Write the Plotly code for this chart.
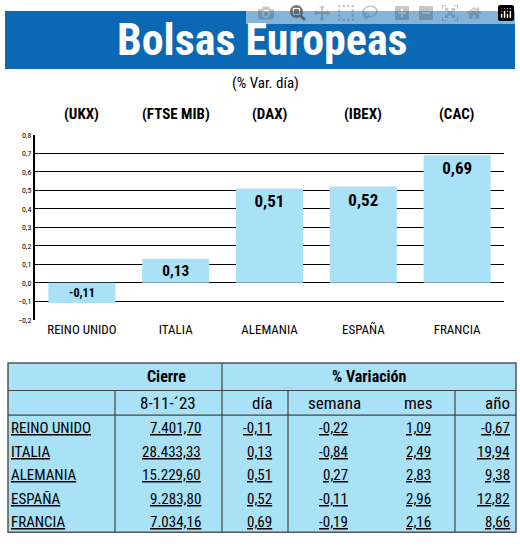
import plotly.graph_objects as go

W, H = 520, 546
paises = ["REINO UNIDO", "ITALIA", "ALEMANIA", "ESPAÑA", "FRANCIA"]
indices = ["(UKX)", "(FTSE MIB)", "(DAX)", "(IBEX)", "(CAC)"]
var_dia = [-0.11, 0.13, 0.51, 0.52, 0.69]
cierre = ["7.401,70", "28.433,33", "15.229,60", "9.283,80", "7.034,16"]
dia = ["-0,11", "0,13", "0,51", "0,52", "0,69"]
semana = ["-0,22", "-0,84", "0,27", "-0,11", "-0,19"]
mes = ["1,09", "2,49", "2,83", "2,96", "2,16"]
anio = ["-0,67", "19,94", "9,38", "12,82", "8,66"]
yticks = [-0.2, -0.1, 0, 0.1, 0.2, 0.3, 0.4, 0.5, 0.6, 0.7, 0.8]

FONT = "Liberation Sans Narrow, Roboto Condensed, Arial Narrow, sans-serif"
BLUE = "#0a68b4"
LIGHT = "#a9e1f6"

def px(x): return x / W
def py(y): return 1 - y / H

x0, x1, ytop, ybot = 35, 504, 133, 321
fig = go.Figure(go.Bar(
    x=list(range(5)), y=var_dia, width=0.715, marker_color=LIGHT, marker_line_width=0,
    texttemplate="<b>%{y:.2f}</b>", textposition="inside", insidetextanchor="end",
    textfont=dict(family=FONT, size=17, color="black"), cliponaxis=False))

fig.update_layout(
    width=W, height=H, margin=dict(l=0, r=0, t=0, b=0), separators=",.",
    paper_bgcolor="white", plot_bgcolor="white", showlegend=False,
    font=dict(family=FONT, color="black"),
    xaxis=dict(domain=[px(x0), px(x1)], range=[-0.5, 4.5], tickvals=list(range(5)),
               ticktext=paises, tickfont=dict(size=13), showgrid=False, ticks="", zeroline=False),
    yaxis=dict(domain=[py(ybot), py(ytop)], range=[-0.2, 0.8], tickvals=yticks,
               tickformat=".1f", tickfont=dict(size=8), showgrid=True, gridcolor="black",
               gridwidth=1.2, showline=True, linecolor="black", linewidth=2,
               zeroline=False, ticks=""),
)

shapes = []
ann = []
shapes.append(dict(type="rect", xref="paper", yref="paper", x0=px(5), x1=px(515),
                   y0=py(66), y1=py(7), fillcolor=BLUE, line_width=0, layer="below"))
ann.append(dict(text="<b>Bolsas Europeas</b>", x=px(262), y=py(37), xref="paper", yref="paper",
                xanchor="center", yanchor="middle",
                showarrow=False, font=dict(size=44, color="white", family=FONT)))
ann.append(dict(text="(% Var. día)", x=px(265), y=py(80), xref="paper", yref="paper",
                xanchor="center", yanchor="middle",
                showarrow=False, font=dict(size=15, family=FONT)))
for i, t in enumerate(indices):
    ann.append(dict(text="<b>%s</b>" % t, x=i, y=py(112), xref="x", yref="paper",
                    xanchor="center", yanchor="middle",
                    showarrow=False, font=dict(size=15, family=FONT)))

tx0, tx1, ty0, ty1 = 8, 516, 365, 537
shapes.append(dict(type="rect", xref="paper", yref="paper", x0=px(tx0), x1=px(tx1),
                   y0=py(ty1), y1=py(ty0), fillcolor=LIGHT, line=dict(color="#555", width=1.5)))
def hline(y, a, b):
    shapes.append(dict(type="line", xref="paper", yref="paper", x0=px(a), x1=px(b),
                       y0=py(y), y1=py(y), line=dict(color="#444", width=1.2)))
def vline(x, a, b):
    shapes.append(dict(type="line", xref="paper", yref="paper", x0=px(x), x1=px(x),
                       y0=py(a), y1=py(b), line=dict(color="#444", width=1.2)))
hline(393, tx0, tx1)
hline(418, tx0, tx1)
vline(222, ty0, ty1)
vline(115, 393, ty1)
vline(288, 393, ty1)
vline(455, 393, ty1)

def txt(s, x, y, anchor="center", size=15, bold=False):
    ann.append(dict(text=("<b>%s</b>" % s) if bold else s, x=px(x), y=py(y), xref="paper",
                    yref="paper", xanchor=anchor, yanchor="middle", showarrow=False,
                    font=dict(size=size, family=FONT)))
txt("Cierre", 166, 379, bold=True, size=16)
txt("% Variación", 369, 379, bold=True, size=16)
txt("8-11-´23", 168, 406, size=17)
txt("día", 275, 406, anchor="right", size=17)
txt("semana", 334, 406, size=17)
txt("mes", 418, 406, size=17)
txt("año", 512, 406, anchor="right", size=17)
for r in range(5):
    y = 431 + r * 24
    txt("<u>%s</u>" % paises[r], 9, y, anchor="left")
    txt("<u>%s</u>" % cierre[r], 203, y, anchor="right")
    txt("<u>%s</u>" % dia[r], 274, y, anchor="right")
    txt("<u>%s</u>" % semana[r], 350, y, anchor="right")
    txt("<u>%s</u>" % mes[r], 433, y, anchor="right")
    txt("<u>%s</u>" % anio[r], 512, y, anchor="right")

fig.update_layout(shapes=shapes, annotations=ann)
fig.write_html("out.html")
with open("out.html", encoding="utf-8") as f:
    html = f.read()
html = html.replace("<head>", "<head><style>html,body{margin:0;padding:0;overflow:hidden;}</style>", 1)
with open("out.html", "w", encoding="utf-8") as f:
    f.write(html)
